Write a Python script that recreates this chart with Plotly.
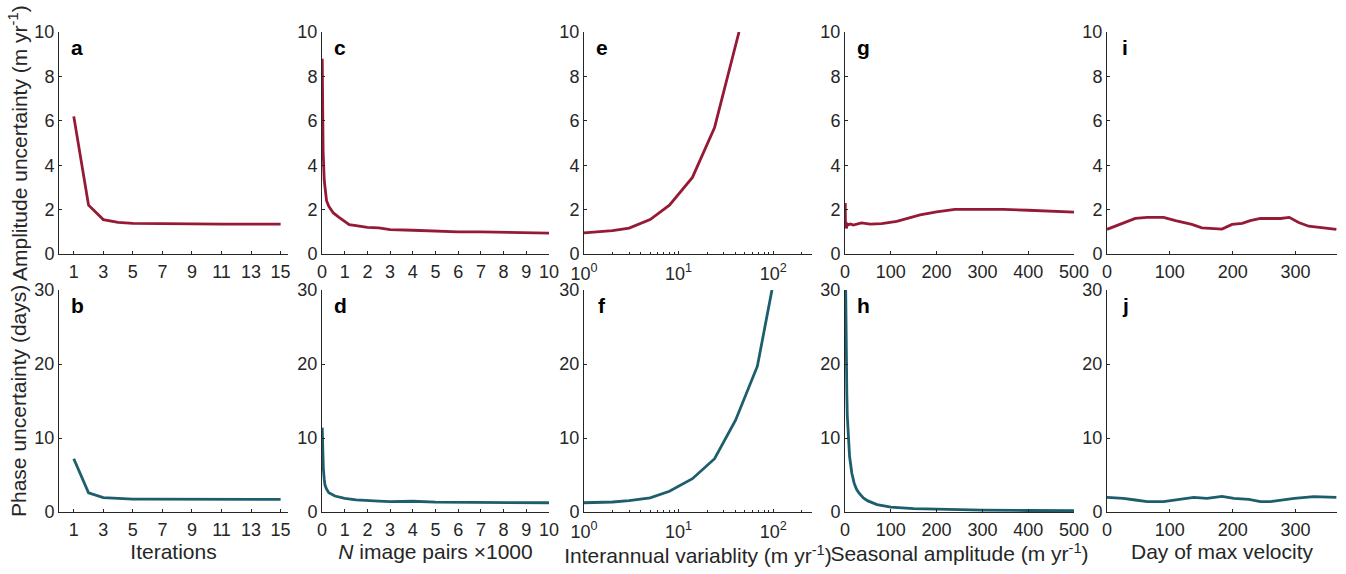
import plotly.graph_objects as go

W, H = 1346, 574
RED = "#951A35"
TEAL = "#1D5E6C"
TXT = "#262626"

# ---- data ----
iter_x = list(range(1, 16))
amp_iter = [6.2, 2.2, 1.55, 1.42, 1.38, 1.37, 1.36, 1.36, 1.35, 1.35, 1.35, 1.35, 1.35, 1.35, 1.35]
phase_iter = [7.2, 2.6, 1.95, 1.8, 1.75, 1.74, 1.73, 1.72, 1.72, 1.71, 1.71, 1.7, 1.7, 1.7, 1.7]

npairs_x = [0.01, 0.03, 0.05, 0.1, 0.15, 0.2, 0.3, 0.5, 0.75, 1.0, 1.2, 1.5, 2, 2.5, 3, 4, 5, 6, 7, 8, 9, 10]
amp_npairs = [8.8, 6.0, 4.6, 3.3, 2.7, 2.4, 2.15, 1.85, 1.65, 1.45, 1.32, 1.28, 1.2, 1.18, 1.1, 1.07, 1.03, 1.0, 1.0, 0.98, 0.96, 0.94]
npairs_x2 = [0.01, 0.03, 0.06, 0.1, 0.13, 0.2, 0.3, 0.57, 1.0, 1.5, 2, 2.5, 3, 3.5, 4, 5, 6, 7, 8, 9, 10]
phase_npairs = [11.4, 8.0, 5.8, 4.4, 3.65, 3.1, 2.6, 2.16, 1.85, 1.65, 1.53, 1.47, 1.4, 1.43, 1.45, 1.33, 1.3, 1.28, 1.26, 1.25, 1.25]

iav_x = [1, 2, 3, 5, 8, 14, 24, 40, 43.5]
amp_iav = [0.95, 1.05, 1.17, 1.55, 2.2, 3.45, 5.7, 9.3, 10.0]
iav_x2 = [1, 2, 3, 5, 8, 14, 24, 40, 68, 97]
phase_iav = [1.25, 1.35, 1.55, 1.9, 2.8, 4.5, 7.2, 12.4, 19.7, 30.0]

seas_x = [0.5, 1, 2, 3, 5, 8, 12, 18, 25, 36, 55, 80, 113, 164, 200, 240, 300, 346, 400, 450, 500]
amp_seas = [2.3, 1.2, 1.45, 1.15, 1.35, 1.32, 1.35, 1.3, 1.35, 1.4, 1.35, 1.37, 1.47, 1.76, 1.9, 2.01, 2.01, 2.01, 1.97, 1.93, 1.89]
seas_x2 = [1.5, 2, 3, 4, 5, 7, 10, 15, 20, 25, 30, 40, 50, 70, 100, 150, 200, 300, 400, 500]
phase_seas = [30, 25, 19, 16, 13, 11, 7.5, 5.2, 3.9, 3.1, 2.6, 1.9, 1.5, 1.0, 0.65, 0.45, 0.35, 0.25, 0.2, 0.17]

day_x = [0, 26, 45, 64, 90, 109, 122, 135, 151, 183, 199, 215, 228, 244, 276, 290, 305, 321, 365]
amp_day = [1.11, 1.38, 1.6, 1.65, 1.65, 1.5, 1.43, 1.33, 1.18, 1.12, 1.33, 1.38, 1.5, 1.6, 1.6, 1.65, 1.42, 1.25, 1.11]
day_x2 = [0, 26, 45, 64, 90, 117, 138, 159, 183, 202, 226, 244, 260, 298, 329, 365]
phase_day = [1.98, 1.85, 1.62, 1.4, 1.4, 1.7, 1.98, 1.85, 2.1, 1.85, 1.7, 1.4, 1.4, 1.85, 2.07, 1.98]

amp_ticks = [0, 2, 4, 6, 8, 10]
phase_ticks = [0, 10, 20, 30]
log_tickvals = [1, 10, 100]
log_ticktext = ["10<sup>0</sup>", "10<sup>1</sup>", "10<sup>2</sup>"]
log_minor = [2, 3, 4, 5, 6, 7, 8, 9, 20, 30, 40, 50, 60, 70, 80, 90, 200]

x_titles = ["Iterations", "<i>N</i> image pairs \u00d71000",
            "Interannual variablity (m yr<sup>-1</sup>)",
            "Seasonal amplitude (m yr<sup>-1</sup>)", "Day of max velocity"]
letters_top = ["a", "c", "e", "g", "i"]
letters_bot = ["b", "d", "f", "h", "j"]

# ---- layout geometry (pixels) ----
cols = [(59, 288), (322, 549), (584, 812), (845, 1074), (1107, 1337)]
rows = [(32, 254), (290, 512)]

def fx(px):
    return px / W

def fy(py):
    return 1 - py / H

top_series = [(iter_x, amp_iter), (npairs_x, amp_npairs), (iav_x, amp_iav), (seas_x, amp_seas), (day_x, amp_day)]
bot_series = [(iter_x, phase_iter), (npairs_x2, phase_npairs), (iav_x2, phase_iav), (seas_x2, phase_seas), (day_x2, phase_day)]

xcfg = [
    dict(type="linear", range=[0, 15.5], tickvals=[1, 3, 5, 7, 9, 11, 13, 15], ticklabelstandoff=1),
    dict(type="linear", range=[0, 10], tickvals=list(range(0, 11)), ticklabelstandoff=1),
    dict(type="log", range=[0, 2.41], tickvals=log_tickvals, ticktext=log_ticktext, ticklabelstandoff=3,
         minor=dict(ticks="inside", ticklen=2, tickvals=log_minor, tickcolor=TXT)),
    dict(type="linear", range=[0, 500], tickvals=[0, 100, 200, 300, 400, 500], ticklabelstandoff=1),
    dict(type="linear", range=[0, 366], tickvals=[0, 100, 200, 300], ticklabelstandoff=1),
]

FAM = "Liberation Sans, Arial, Helvetica, sans-serif"
fig = go.Figure()
layout = {}
annotations = []
font = dict(family=FAM, size=18, color=TXT)

n = 0
for r, (series, yr, yt, letters, col) in enumerate([
        (top_series, [0, 10], amp_ticks, letters_top, RED),
        (bot_series, [0, 30], phase_ticks, letters_bot, TEAL)]):
    for c in range(5):
        n += 1
        xs, ys = series[c]
        xa = "x" if n == 1 else f"x{n}"
        ya = "y" if n == 1 else f"y{n}"
        fig.add_trace(go.Scatter(x=xs, y=ys, mode="lines", xaxis=xa, yaxis=ya,
                                 line=dict(color=col, width=2.8), showlegend=False,
                                 hoverinfo="x+y"))
        xkey = "xaxis" if n == 1 else f"xaxis{n}"
        ykey = "yaxis" if n == 1 else f"yaxis{n}"
        x0, x1 = cols[c]
        y0, y1 = rows[r]
        ax = dict(domain=[fx(x0), fx(x1)], anchor=ya, showgrid=False, zeroline=False,
                  showline=True, linecolor=TXT, linewidth=1, ticks="inside", ticklen=3,
                  tickcolor=TXT, tickfont=font, mirror=False, automargin=False)
        ax.update(xcfg[c])
        if r == 1:
            ax["title"] = dict(text=x_titles[c], font=dict(family=FAM, size=21, color=TXT),
                               standoff=1)
        layout[xkey] = ax
        layout[ykey] = dict(domain=[fy(y1), fy(y0)], anchor=xa, range=yr, tickvals=yt,
                            showgrid=False, zeroline=False, showline=True, linecolor=TXT,
                            linewidth=1, ticks="inside", ticklen=3, tickcolor=TXT,
                            tickfont=font, automargin=False)
        annotations.append(dict(text=f"<b>{letters[c]}</b>", x=fx(x0 + 18), y=fy(y0 + 16),
                                xref="paper", yref="paper", xanchor="center", yanchor="middle",
                                showarrow=False, font=dict(family=FAM, size=21, color="black")))

annotations.append(dict(text="Amplitude uncertainty (m yr<sup>-1</sup>)", x=fx(18), y=fy(143),
                        xref="paper", yref="paper", xanchor="center", yanchor="middle",
                        textangle=-90, showarrow=False,
                        font=dict(family=FAM, size=21, color=TXT)))
annotations.append(dict(text="Phase uncertainty (days)", x=fx(18), y=fy(401),
                        xref="paper", yref="paper", xanchor="center", yanchor="middle",
                        textangle=-90, showarrow=False,
                        font=dict(family=FAM, size=21, color=TXT)))

fig.update_layout(width=W, height=H, margin=dict(l=0, r=0, t=0, b=0, autoexpand=False),
                  plot_bgcolor="white", paper_bgcolor="white",
                  annotations=annotations, font=font, **layout)

fig.write_html("out.html")
